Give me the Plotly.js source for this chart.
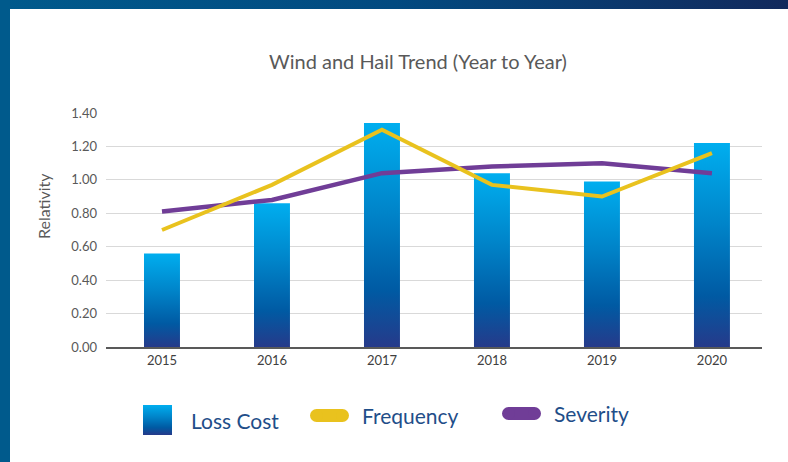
<!DOCTYPE html>
<html>
<head>
<meta charset="utf-8">
<script src="https://cdn.plot.ly/plotly-3.0.1.min.js"></script>
<style>
  html, body { margin: 0; padding: 0; width: 788px; height: 462px; overflow: hidden; background: #ffffff; }
  #frame { position: absolute; left: 0; top: 0; width: 788px; height: 462px;
           background: linear-gradient(90deg, #005a8c 0%, #024a80 50%, #12295c 100%); }
  #leftbar { position: absolute; left: 0; top: 0; width: 10px; height: 462px; background: #005a8c; }
  #chart { position: absolute; left: 10px; top: 9px; width: 778px; height: 453px; background: #fff; }
</style>
</head>
<body>
<div id="frame"></div>
<div id="leftbar"></div>
<div id="chart"></div>
<script>
// ---- data ----
const years = ['2015', '2016', '2017', '2018', '2019', '2020'];
const lossCost = [0.56, 0.86, 1.34, 1.04, 0.99, 1.22];
const frequency = [0.70, 0.97, 1.30, 0.97, 0.90, 1.16];
const severity = [0.81, 0.88, 1.04, 1.08, 1.10, 1.04];
const yTicks = [0, 0.2, 0.4, 0.6, 0.8, 1.0, 1.2, 1.4];

// ---- layout geometry (div pixels) ----
const W = 778, H = 453;
const L = 96, R = 26, T = 104, B = 115;
const PW = W - L - R, PH = H - T - B;
const px = x => (x - L) / PW;          // div x pixel -> paper
const py = y => (H - B - y) / PH;      // div y pixel -> paper
const ox = 10, oy = 9;                 // page offset of the chart div
const gx = x => px(x - ox);            // page pixel -> paper
const gy = y => py(y - oy);

const legendText = '#1f4e89';
const freqColor = '#e9c21e';
const sevColor = '#703d97';

const traces = [
  { type: 'bar', x: years, y: lossCost, name: 'Loss Cost', width: 0.327,
    marker: { color: '#0078be', line: { width: 0 } }, hoverinfo: 'x+y' },
  { type: 'scatter', mode: 'lines', x: years, y: severity, name: 'Severity',
    line: { color: sevColor, width: 4.5 } },
  { type: 'scatter', mode: 'lines', x: years, y: frequency, name: 'Frequency',
    line: { color: freqColor, width: 4 } }
];

const shapes = [
  // Loss Cost legend square
  { type: 'rect', xref: 'paper', yref: 'paper', x0: gx(143), x1: gx(172), y0: gy(405), y1: gy(435),
    fillcolor: 'rgb(0, 120, 191)', line: { width: 0 } },
  // Frequency pill
  { type: 'rect', xref: 'paper', yref: 'paper', x0: gx(316.5), x1: gx(342.5), y0: gy(409), y1: gy(422),
    fillcolor: freqColor, line: { width: 0 } },
  { type: 'circle', xref: 'paper', yref: 'paper', x0: gx(310), x1: gx(323), y0: gy(409), y1: gy(422),
    fillcolor: freqColor, line: { width: 0 } },
  { type: 'circle', xref: 'paper', yref: 'paper', x0: gx(336), x1: gx(349), y0: gy(409), y1: gy(422),
    fillcolor: freqColor, line: { width: 0 } },
  // Severity pill
  { type: 'rect', xref: 'paper', yref: 'paper', x0: gx(508.5), x1: gx(534.5), y0: gy(407), y1: gy(420),
    fillcolor: sevColor, line: { width: 0 } },
  { type: 'circle', xref: 'paper', yref: 'paper', x0: gx(502), x1: gx(515), y0: gy(407), y1: gy(420),
    fillcolor: sevColor, line: { width: 0 } },
  { type: 'circle', xref: 'paper', yref: 'paper', x0: gx(528), x1: gx(541), y0: gy(407), y1: gy(420),
    fillcolor: sevColor, line: { width: 0 } }
];

const legFont = { family: 'Lato, "Open Sans", sans-serif', size: 21, color: legendText };
const annotations = [
  { text: 'Relativity', xref: 'paper', yref: 'paper', x: gx(43), y: gy(206), textangle: -90,
    showarrow: false, xanchor: 'center', yanchor: 'middle',
    font: { family: 'Lato, "Open Sans", sans-serif', size: 16, color: '#595959' } },
  { text: 'Loss Cost', xref: 'paper', yref: 'paper', x: gx(189), y: gy(420), showarrow: false,
    xanchor: 'left', yanchor: 'middle', font: legFont },
  { text: 'Frequency', xref: 'paper', yref: 'paper', x: gx(360), y: gy(415), showarrow: false,
    xanchor: 'left', yanchor: 'middle', font: legFont },
  { text: 'Severity', xref: 'paper', yref: 'paper', x: gx(552), y: gy(413), showarrow: false,
    xanchor: 'left', yanchor: 'middle', font: legFont }
];

const layout = {
  width: W, height: H,
  margin: { l: L, r: R, t: T, b: B, pad: 0 },
  paper_bgcolor: '#ffffff', plot_bgcolor: '#ffffff',
  showlegend: false,
  font: { family: 'Lato, "Open Sans", sans-serif', color: '#595959' },
  title: { text: 'Wind and Hail Trend (Year to Year)', xref: 'container', yref: 'container',
           x: (418 - ox) / W, y: 1 - (62 - oy) / H, xanchor: 'center', yanchor: 'middle',
           font: { family: 'Lato, "Open Sans", sans-serif', size: 20, color: '#595959' } },
  xaxis: { type: 'category', range: [-0.509, 5.455], showgrid: false, zeroline: false,
           showline: true, linecolor: '#595959', linewidth: 2, ticks: '',
           tickfont: { size: 13, color: '#404040' }, fixedrange: true },
  yaxis: { range: [0, 1.4], tickvals: yTicks, tickformat: '.2f', showgrid: true,
           gridcolor: '#d9d9d9', gridwidth: 1, zeroline: false, showline: false, ticks: '',
           tickfont: { size: 13, color: '#595959' }, ticklabelstandoff: 8, fixedrange: true },
  bargap: 0.67,
  shapes: shapes,
  annotations: annotations
};

Plotly.newPlot('chart', traces, layout, { displayModeBar: false, staticPlot: true }).then(gd => {
  const NS = 'http://www.w3.org/2000/svg';
  const svg = gd.querySelector('svg.main-svg');
  let defs = svg.querySelector('defs');
  if (!defs) { defs = document.createElementNS(NS, 'defs'); svg.insertBefore(defs, svg.firstChild); }
  const grad = document.createElementNS(NS, 'linearGradient');
  grad.setAttribute('id', 'lossGrad');
  grad.setAttribute('x1', '0'); grad.setAttribute('y1', '0');
  grad.setAttribute('x2', '0'); grad.setAttribute('y2', '1');
  [['0%', '#00aeef'], ['40%', '#0084c9'], ['75%', '#005aa3'], ['100%', '#263a8a']].forEach(([o, c]) => {
    const s = document.createElementNS(NS, 'stop');
    s.setAttribute('offset', o); s.setAttribute('stop-color', c);
    grad.appendChild(s);
  });
  defs.appendChild(grad);
  gd.querySelectorAll('.barlayer .point path').forEach(p => { p.style.fill = 'url(#lossGrad)'; });
  gd.querySelectorAll('.shapelayer path').forEach(p => {
    const f = (p.style.fill || '').replace(/\s/g, '');
    if (f === 'rgb(0,120,191)') p.style.fill = 'url(#lossGrad)';
  });
});
</script>
</body>
</html>
